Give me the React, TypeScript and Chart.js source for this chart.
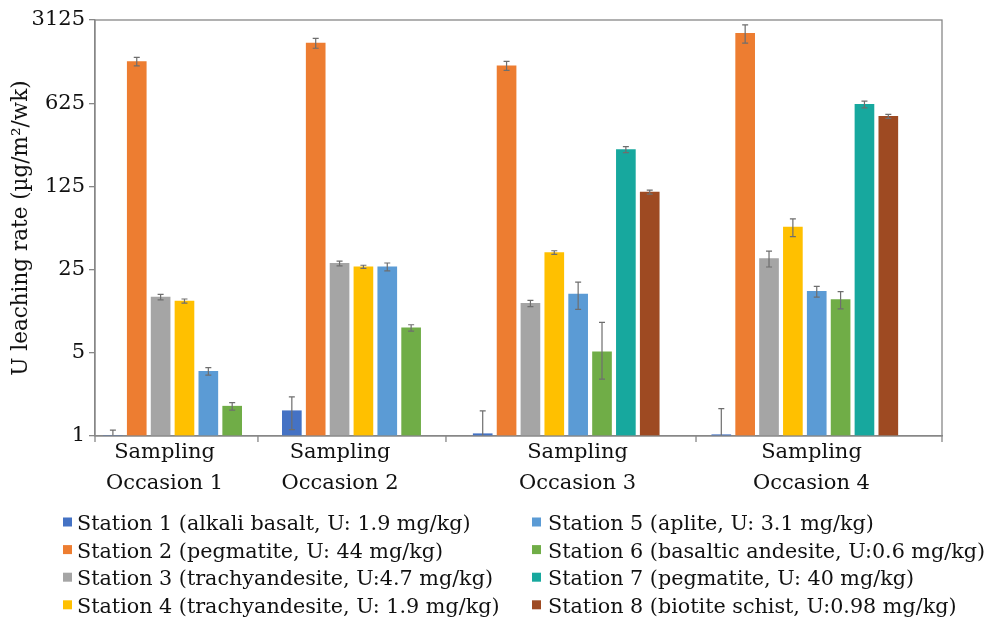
import React, { useEffect, useRef } from "react";
import { Chart, registerables } from "chart.js";

Chart.register(...registerables);

// ---------------- data ----------------
const occasions = [
  "Sampling Occasion 1",
  "Sampling Occasion 2",
  "Sampling Occasion 3",
  "Sampling Occasion 4",
];

const stationNames = [
  "Station 1 (alkali basalt, U: 1.9 mg/kg)",
  "Station 2 (pegmatite, U: 44 mg/kg)",
  "Station 3 (trachyandesite, U:4.7 mg/kg)",
  "Station 4 (trachyandesite, U: 1.9 mg/kg)",
  "Station 5 (aplite, U: 3.1 mg/kg)",
  "Station 6 (basaltic andesite, U:0.6 mg/kg)",
  "Station 7 (pegmatite, U: 40 mg/kg)",
  "Station 8 (biotite schist, U:0.98 mg/kg)",
];

const yTicks = [1, 5, 25, 125, 625, 3125];

// leaching rate per station, one value per sampling occasion
const station1 = [1.01, 1.63, 1.045, 1.025];
const station2 = [1400, 2000, 1290, 2420];
const station3 = [14.7, 28.2, 13.0, 31.0];
const station4 = [13.6, 26.4, 34.8, 57.0];
const station5 = [3.5, 26.4, 15.6, 16.4];
const station6 = [1.78, 8.1, 5.1, 14.0];
const station7 = [null, null, 255, 611];
const station8 = [null, null, 112, 485];

// error bars (symmetric, or [minus, plus])
const err1 = [0.11, 0.5, 0.58, 0.67];
const err2 = [115, 190, 112, 420];
const err3 = [0.8, 1.3, 0.8, 4.7];
const err4 = [0.55, 0.8, 1.2, 9.7];
const err5 = [0.25, 2.0, 4.0, 1.7];
const err6: any[] = [0.13, 0.5, [2.1, 3.9], 2.3];
const err7 = [null, null, 15, 40];
const err8 = [null, null, 4.3, 19];

// ---------------- styles / layout ----------------
const stationColors = [
  "#4472C4",
  "#ED7D31",
  "#A5A5A5",
  "#FFC000",
  "#5B9BD5",
  "#70AD47",
  "#17A89E",
  "#9E4A22",
];

const FONT = '"DejaVu Serif", serif';
const TEXT_COLOR = "#111111";
const AXIS_COLOR = "#878787";
const ERR_COLOR = "#6e6e6e";

const SLOT_COUNT = 71;
const GROUP_START = [1, 16, 32, 52];
const LABEL_POS = [5.33, 20.04, 39.95, 59.56];
const BOUNDARY_POS = [-0.5, 13.16, 28.92, 49.88, 70.5];

const values: (number | null)[][] = [
  station1, station2, station3, station4, station5, station6, station7, station8,
];
const errors: any[][] = [err1, err2, err3, err4, err5, err6, err7, err8];

const slotOf = (g: number, s: number) => GROUP_START[g] + 2 * s;

const errorBarPlugin = {
  id: "errorBars",
  afterDatasetsDraw(chart: any) {
    const { ctx, chartArea } = chart;
    const yScale = chart.scales.y;
    ctx.save();
    ctx.strokeStyle = ERR_COLOR;
    ctx.lineWidth = 1.2;
    values.forEach((series, s) => {
      const meta = chart.getDatasetMeta(s);
      series.forEach((v, g) => {
        const e = errors[s][g];
        if (v == null || e == null) return;
        const [minus, plus] = Array.isArray(e) ? e : [e, e];
        const el = meta.data[slotOf(g, s)];
        if (!el) return;
        const x = el.x;
        const yTop = yScale.getPixelForValue(v + plus);
        const low = v - minus;
        const clipped = low <= yScale.min;
        const yBot = clipped ? chartArea.bottom : yScale.getPixelForValue(low);
        ctx.beginPath();
        ctx.moveTo(x, yTop);
        ctx.lineTo(x, yBot);
        ctx.moveTo(x - 3, yTop);
        ctx.lineTo(x + 3, yTop);
        if (!clipped) {
          ctx.moveTo(x - 3, yBot);
          ctx.lineTo(x + 3, yBot);
        }
        ctx.stroke();
      });
    });
    ctx.restore();
  },
};

const decorPlugin = {
  id: "decor",
  afterDraw(chart: any) {
    const { ctx, chartArea } = chart;
    const xScale = chart.scales.x;
    ctx.save();
    // frame (top/right)
    ctx.strokeStyle = AXIS_COLOR;
    ctx.lineWidth = 1.3;
    ctx.strokeRect(
      chartArea.left,
      chartArea.top,
      chartArea.right - chartArea.left,
      chartArea.bottom - chartArea.top
    );
    // x tick marks between occasions
    ctx.beginPath();
    BOUNDARY_POS.forEach((b) => {
      const px = xScale.getPixelForValue(b);
      ctx.moveTo(px, chartArea.bottom);
      ctx.lineTo(px, chartArea.bottom + 6);
    });
    ctx.stroke();
    // occasion labels
    ctx.fillStyle = TEXT_COLOR;
    ctx.font = `21px ${FONT}`;
    ctx.textAlign = "center";
    ctx.textBaseline = "alphabetic";
    occasions.forEach((name, g) => {
      const px = xScale.getPixelForValue(LABEL_POS[g]);
      const idx = name.indexOf(" ");
      const l1 = name.slice(0, idx);
      const l2 = name.slice(idx + 1);
      ctx.fillText(l1, px, chartArea.bottom + 21.5);
      ctx.fillText(l2, px, chartArea.bottom + 52.5);
    });
    // legend (two columns, column-major)
    const colBox = [63, 532];
    const colText = [77, 548];
    ctx.font = `20.7px ${FONT}`;
    ctx.textAlign = "left";
    chart.data.datasets.forEach((ds: any, s: number) => {
      const col = Math.floor(s / 4);
      const row = s % 4;
      const base = 530 + row * 27.6;
      ctx.fillStyle = ds.backgroundColor;
      ctx.fillRect(colBox[col], base - 12.5, 9, 9);
      ctx.fillStyle = TEXT_COLOR;
      ctx.fillText(ds.label, colText[col], base);
    });
    ctx.restore();
  },
};

export default function App() {
  const canvasRef = useRef<HTMLCanvasElement | null>(null);

  useEffect(() => {
    if (!canvasRef.current) return;
    const labels = Array.from({ length: SLOT_COUNT }, (_, i) => `slot ${i + 1}`);
    const datasets = stationNames.map((name, s) => {
      const data: (number | null)[] = new Array(SLOT_COUNT).fill(null);
      values[s].forEach((v, g) => {
        if (v != null) data[slotOf(g, s)] = v;
      });
      return {
        label: name,
        data,
        backgroundColor: stationColors[s],
        borderWidth: 0,
        barThickness: 19,
        grouped: false,
      };
    });

    const chart = new Chart(canvasRef.current, {
      type: "bar",
      data: { labels, datasets },
      options: {
        responsive: false,
        animation: false,
        layout: { padding: { left: 0, top: 20, right: 51, bottom: 185 } },
        plugins: {
          legend: { display: false },
          tooltip: { enabled: false },
        },
        scales: {
          x: {
            type: "category",
            offset: true,
            grid: { display: false, drawTicks: false },
            ticks: { display: false },
            border: { display: true, color: AXIS_COLOR, width: 1.3 },
            afterFit: (sc: any) => {
              sc.height = 0;
            },
          },
          y: {
            type: "logarithmic",
            min: 1,
            max: 3125,
            afterBuildTicks: (sc: any) => {
              sc.ticks = yTicks.map((v) => ({ value: v }));
            },
            ticks: {
              callback: (v: any) => String(v),
              font: { family: FONT, size: 21 },
              color: TEXT_COLOR,
              padding: 4,
              autoSkip: false,
            },
            grid: {
              drawOnChartArea: false,
              drawTicks: true,
              tickLength: 6,
              color: AXIS_COLOR,
              lineWidth: 1.3,
            },
            border: { display: true, color: AXIS_COLOR, width: 1.3 },
            title: {
              display: true,
              text: "U leaching rate (µg/m²/wk)",
              font: { family: FONT, size: 21.5 },
              color: TEXT_COLOR,
              padding: { top: 9, bottom: 4 },
            },
            afterFit: (sc: any) => {
              sc.width = 95;
            },
          },
        },
      } as any,
      plugins: [errorBarPlugin, decorPlugin],
    });
    return () => chart.destroy();
  }, []);

  return (
    <div style={{ position: "absolute", left: 0, top: 0, width: 993, height: 621, background: "#fff" }}>
      <canvas ref={canvasRef} width={993} height={621} style={{ display: "block" }} />
    </div>
  );
}
